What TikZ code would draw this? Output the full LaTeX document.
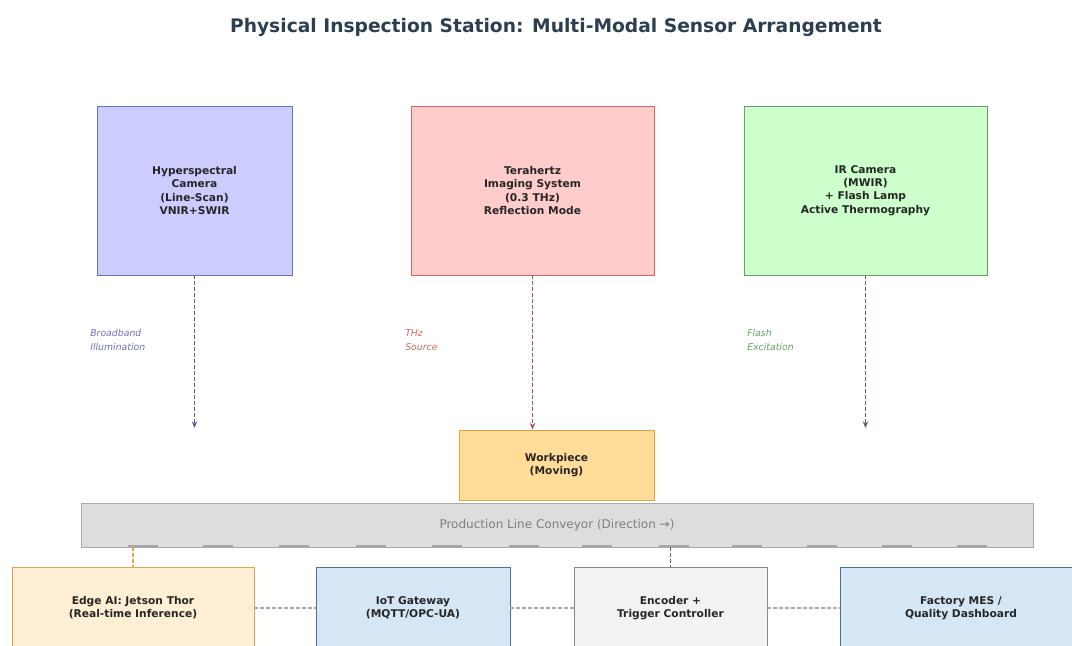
\documentclass[tikz,border=0pt]{standalone}
\usepackage{fontspec}
\setmainfont{DejaVu Sans}
\usetikzlibrary{arrows.meta}
\definecolor{titlecol}{HTML}{2C3E50}
\definecolor{hscfill}{HTML}{CCCCFF}
\definecolor{hscline}{HTML}{7070C0}
\definecolor{thzfill}{HTML}{FFCCCC}
\definecolor{thzline}{HTML}{CC6666}
\definecolor{ircfill}{HTML}{CCFFCC}
\definecolor{ircline}{HTML}{66A066}
\definecolor{wpfill}{HTML}{FFDD99}
\definecolor{wpline}{HTML}{E6A040}
\definecolor{convfill}{HTML}{DDDDDD}
\definecolor{convline}{HTML}{AAAAAA}
\definecolor{edgefill}{HTML}{FFF0D5}
\definecolor{edgeline}{HTML}{E6A050}
\definecolor{netfill}{HTML}{D5E6F5}
\definecolor{netline}{HTML}{4A6FA0}
\definecolor{encfill}{HTML}{F2F2F2}
\definecolor{encline}{HTML}{888888}
\begin{document}
\begin{tikzpicture}[x=0.75pt,y=-0.75pt,
  box/.style={draw, line width=0.6pt, align=center, inner sep=0pt, text=black!85,
    font=\bfseries\fontsize{8}{9.9}\selectfont},
  beam/.style={line width=0.9pt, dash pattern=on 3pt off 1.5pt, -{Stealth[length=5pt,width=4pt]}},
  note/.style={anchor=west, align=left, inner sep=0pt, font=\itshape\fontsize{7}{10.5}\selectfont},
  link/.style={line width=0.8pt, dash pattern=on 3pt off 1.5pt, draw=convline},
  roller/.style={line width=1.5pt, draw=black!35}]
\useasboundingbox (0,0) rectangle (1072,646);
\clip (0,0) rectangle (1072,646);

\node[font=\bfseries\fontsize{14}{16}\selectfont, text=titlecol] (title) at (556,27) {Physical Inspection Station: Multi-Modal Sensor Arrangement};

\node[box, fill=hscfill, draw=hscline, minimum width=146.25pt, minimum height=126.75pt] (hsc) at (194.5,190.5) {Hyperspectral\\Camera\\(Line-Scan)\\VNIR+SWIR};
\node[box, fill=thzfill, draw=thzline, minimum width=182.25pt, minimum height=126.75pt] (thz) at (532.5,190.5) {Terahertz\\Imaging System\\(0.3 THz)\\Reflection Mode};
\node[box, fill=ircfill, draw=ircline, minimum width=182.25pt, minimum height=126.75pt] (irc) at (865.5,190.5) {IR Camera\\(MWIR)\\+ Flash Lamp\\Active Thermography};

\node[box, fill=wpfill, draw=wpline, minimum width=146.25pt, minimum height=52.5pt] (wp) at (556.5,465) {Workpiece\\(Moving)};
\node[draw=convline, fill=convfill, line width=0.6pt, minimum width=714pt, minimum height=33pt, text=black!50, font=\fontsize{9}{11}\selectfont] (conv) at (557,525) {Production Line Conveyor (Direction →)};

\coordinate (hscend) at (194.5,428);
\coordinate (ircend) at (865.5,428);
\draw[beam, draw=hscline!80!black] (hsc.south) -- (hscend);
\draw[beam, draw=thzline!80!black] (thz.south) -- (thz.south |- wp.north);
\draw[beam, draw=ircline!70!black] (irc.south) -- (ircend);

\node[note, text=hscline] (hscnote) at (90,340) {Broadband\\Illumination};
\node[note, text=thzline] (thznote) at (405,340) {THz\\Source};
\node[note, text=ircline] (ircnote) at (747,340) {Flash\\Excitation};

\draw[roller] (128,546) -- (158,546);
\draw[roller] (203,546) -- (233,546);
\draw[roller] (279,546) -- (309,546);
\draw[roller] (356,546) -- (386,546);
\draw[roller] (432,546) -- (462,546);
\draw[roller] (509,546) -- (539,546);
\draw[roller] (582,546) -- (612,546);
\draw[roller] (659,546) -- (689,546);
\draw[roller] (732,546) -- (762,546);
\draw[roller] (807,546) -- (837,546);
\draw[roller] (882,546) -- (912,546);
\draw[roller] (957,546) -- (987,546);

\node[box, fill=edgefill, draw=edgeline, minimum width=181.5pt, minimum height=61.5pt] (edge) at (133,608) {Edge AI: Jetson Thor\\(Real-time Inference)};
\node[box, fill=netfill, draw=netline, minimum width=145.5pt, minimum height=61.5pt] (iot) at (413,608) {IoT Gateway\\(MQTT/OPC-UA)};
\node[box, fill=encfill, draw=encline, minimum width=144.75pt, minimum height=61.5pt] (enc) at (670.5,608) {Encoder +\\Trigger Controller};
\node[box, fill=netfill, draw=netline, minimum width=181.5pt, minimum height=61.5pt] (mes) at (961,608) {Factory MES /\\Quality Dashboard};

\draw[link, draw=edgeline] (conv.south -| edge.north) -- (edge.north);
\draw[link, draw=black!60] (conv.south -| enc.north) -- (enc.north);
\draw[link] (edge) -- (iot);
\draw[link] (iot) -- (enc);
\draw[link] (enc) -- (mes);
\end{tikzpicture}
\end{document}
